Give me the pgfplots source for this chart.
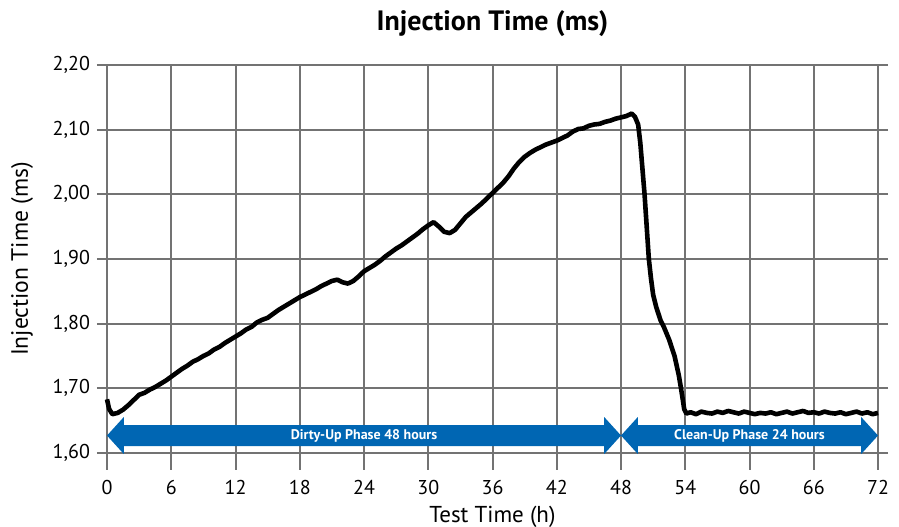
\documentclass[border=0pt]{standalone}
\usepackage{fontspec}
\setmainfont{PT Sans}
\usepackage{pgfplots}
\pgfplotsset{compat=1.18}
\definecolor{gridc}{RGB}{115,115,115}
\definecolor{arrowblue}{RGB}{0,102,179}
\begin{document}
\begin{tikzpicture}
\begin{axis}[
  scale only axis,
  width=385.5pt, height=194pt,
  xmin=0, xmax=72, ymin=1.6, ymax=2.2,
  xtick={0,6,...,72},
  ytick={1.6,1.7,...,2.21},
  grid=major,
  grid style={gridc, line width=1pt},
  axis line style={gridc, line width=1pt},
  tick style={gridc, line width=1pt},
  tick align=outside,
  major tick length=5pt,
  xtick style={draw=none},
  xticklabel style={font=\fontsize{10}{12}\selectfont, yshift=-5pt},
  yticklabel style={font=\fontsize{10}{12}\selectfont},
  /pgf/number format/assume math mode=true,
  yticklabel={\pgfmathprintnumber[fixed, fixed zerofill, precision=2, use comma]{\tick}},
  xticklabel={\pgfmathprintnumber[fixed, precision=0]{\tick}},
  xlabel={Test Time (h)},
  ylabel={Injection Time (ms)},
  xlabel style={font=\fontsize{11.5}{13}\selectfont, at={(axis description cs:0.5,-0.165)}, anchor=center},
  ylabel style={font=\fontsize{11.8}{13}\selectfont, at={(axis description cs:-0.110,0.5)}, anchor=center},
  title={Injection Time (ms)},
  every axis title shift=0pt,
  title style={font=\fontsize{14}{16}\selectfont\bfseries, at={(axis description cs:0.5,1.106)}, anchor=center},
  clip=false,
]
\pgfplotsinvokeforeach{0,6,...,72}{\draw[gridc, line width=1pt] (axis cs:#1,1.6) -- ++(0pt,-8.5pt);}
\addplot[black, line width=2.3pt, line join=round] coordinates {
(0,1.683) (0.2,1.668) (0.5,1.660) (1.0,1.662) (1.5,1.667) (2.0,1.674) (2.5,1.682)
(3.0,1.690) (3.5,1.693) (4.0,1.698) (4.5,1.702) (5.0,1.707) (5.5,1.712) (6.0,1.718)
(6.5,1.724) (7.0,1.730) (7.5,1.735) (8.0,1.741) (8.5,1.745) (9.0,1.750) (9.5,1.754)
(10.0,1.760) (10.5,1.764) (11.0,1.770) (11.5,1.775) (12.0,1.780) (12.5,1.785)
(13.0,1.791) (13.5,1.795) (14.0,1.802) (14.5,1.806) (15.0,1.809) (15.5,1.815)
(16.0,1.821) (16.5,1.826) (17.0,1.831) (17.5,1.836) (18.0,1.841) (18.5,1.845)
(19.0,1.849) (19.5,1.853) (20.0,1.858) (20.5,1.862) (21.0,1.866) (21.5,1.868)
(22.0,1.864) (22.5,1.862) (23.0,1.866) (23.5,1.873) (24.0,1.881) (24.5,1.886)
(25.0,1.891) (25.5,1.897) (26.0,1.904) (26.5,1.910) (27.0,1.916) (27.5,1.921)
(28.0,1.927) (28.5,1.933) (29.0,1.939) (29.5,1.946) (30.0,1.952) (30.5,1.957)
(31.0,1.950) (31.5,1.942) (32.0,1.940) (32.5,1.945) (33.0,1.955) (33.5,1.965)
(34.0,1.972) (34.5,1.979) (35.0,1.986) (35.5,1.994) (36.0,2.002) (36.5,2.010)
(37.0,2.018) (37.5,2.028) (38.0,2.040) (38.5,2.050) (39.0,2.058) (39.5,2.064)
(40.0,2.069) (40.5,2.073) (41.0,2.077) (41.5,2.080) (42.0,2.083) (42.5,2.087)
(43.0,2.091) (43.5,2.097) (44.0,2.101) (44.5,2.102) (45.0,2.106) (45.5,2.108)
(46.0,2.109) (46.5,2.112) (47.0,2.114) (47.5,2.117) (48.0,2.119) (48.5,2.121)
(49.0,2.125) (49.3,2.120) (49.6,2.108) (49.8,2.080) (50.0,2.040) (50.2,2.000)
(50.4,1.950) (50.6,1.900) (50.8,1.870) (51.0,1.845) (51.3,1.825) (51.7,1.805)
(52.0,1.795) (52.5,1.775) (53.0,1.750) (53.4,1.720) (53.7,1.690) (53.9,1.668)
(54.1,1.661) (54.5,1.663) (55.0,1.660) (55.5,1.664) (56.0,1.662) (56.5,1.661)
(57.0,1.664) (57.5,1.662) (58.0,1.665) (58.5,1.663) (59.0,1.661) (59.5,1.664)
(60.0,1.662) (60.5,1.660) (61.0,1.662) (61.5,1.661) (62.0,1.663) (62.5,1.660)
(63.0,1.662) (63.5,1.664) (64.0,1.661) (64.5,1.663) (65.0,1.665) (65.5,1.662)
(66.0,1.663) (66.5,1.661) (67.0,1.664) (67.5,1.662) (68.0,1.661) (68.5,1.663)
(69.0,1.660) (69.5,1.662) (70.0,1.664) (70.5,1.661) (71.0,1.663) (71.5,1.660) (72.0,1.662)
};
% phase arrows
\fill[arrowblue] (axis cs:0,1.627) -- (axis cs:1.57,1.6556) -- (axis cs:1.57,1.6432)
  -- (axis cs:46.43,1.6432) -- (axis cs:46.43,1.6556) -- (axis cs:48,1.627)
  -- (axis cs:46.43,1.5984) -- (axis cs:46.43,1.6108) -- (axis cs:1.57,1.6108)
  -- (axis cs:1.57,1.5984) -- cycle;
\fill[arrowblue] (axis cs:48,1.627) -- (axis cs:49.57,1.6556) -- (axis cs:49.57,1.6432)
  -- (axis cs:70.43,1.6432) -- (axis cs:70.43,1.6556) -- (axis cs:72,1.627)
  -- (axis cs:70.43,1.5984) -- (axis cs:70.43,1.6108) -- (axis cs:49.57,1.6108)
  -- (axis cs:49.57,1.5984) -- cycle;
\node[white, font=\fontsize{7}{8}\selectfont\bfseries] at (axis cs:24,1.627) {Dirty-Up Phase 48 hours};
\node[white, font=\fontsize{7}{8}\selectfont\bfseries] at (axis cs:60,1.627) {Clean-Up Phase 24 hours};
\end{axis}
\pgfresetboundingbox
\path ([shift={(-53.5pt,-37pt)}]current axis.south west) rectangle ([shift={(10.5pt,32.5pt)}]current axis.north east);
\end{tikzpicture}
\end{document}
